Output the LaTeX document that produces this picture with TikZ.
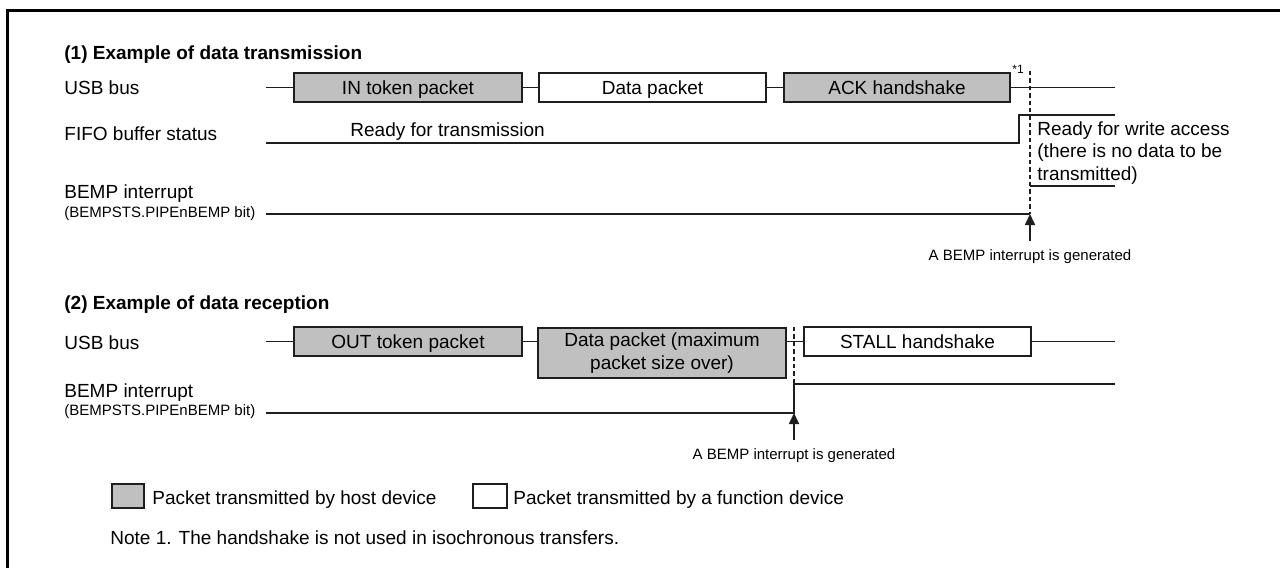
\documentclass[tikz,border=0pt]{standalone}
\usepackage{fontspec}
\setmainfont{Liberation Sans}
\usetikzlibrary{arrows.meta}
\definecolor{HostGray}{RGB}{192,192,192}
\definecolor{LineDark}{RGB}{30,30,30}
\newcommand{\normsz}{\fontsize{9.5}{11.25}\selectfont}
\newcommand{\smallsz}{\fontsize{7.5}{9}\selectfont}
\newcommand{\tinysz}{\fontsize{6}{7}\selectfont}

\begin{document}
\begin{tikzpicture}[x=0.5pt, y=-0.5pt,
    lbl/.style={anchor=base west, inner sep=0pt, font=\normsz},
    sublbl/.style={anchor=base west, inner sep=0pt, font=\smallsz},
    head/.style={lbl, font=\normsz\bfseries},
    pkt/.style={rectangle, draw=LineDark, line width=0.85pt,
                minimum height=14.5pt, inner sep=0pt, font=\normsz,
                text height=0.72em, text depth=0pt},
    host/.style={pkt, fill=HostGray},
    func/.style={pkt, fill=white},
    sig/.style={LineDark, line width=0.85pt},
    evt/.style={LineDark, line width=1pt, dash pattern=on 2.2pt off 1.5pt},
    irq/.style={-{Triangle[length=5.5pt, width=5pt]}, LineDark, line width=0.85pt},
    genlbl/.style={anchor=base, inner sep=0pt, font=\smallsz}
  ]
  \useasboundingbox (0,0) rectangle (1280,568);
  \draw[line width=1.5pt] (7.5,568) |- (1280,10.7);

  % (1) transmission
  \node[head] (title1) at (64,59) {(1) Example of data transmission};
  \node[lbl] (bus1lbl)  at (64,94)  {USB bus};
  \node[lbl] (fifolbl)  at (64,140) {FIFO buffer status};
  \node[lbl] (bemp1lbl) at (64,198) {BEMP interrupt};
  \node[sublbl] (bemp1sub) at (64,217) {(BEMPSTS.PIPEnBEMP bit)};

  \node[host, minimum width=114pt]   (in1)  at (408,87.5)   {IN token packet};
  \node[func, minimum width=113.5pt] (dat1) at (652.5,87.5) {Data packet};
  \node[host, minimum width=113pt]   (ack1) at (897,87.5)   {ACK handshake};
  \node[anchor=base, inner sep=0pt, font=\tinysz] (star1) at (1018,73) {*1};

  \coordinate (b1s) at (266,87.5);
  \coordinate (b1e) at (1115,87.5);
  \draw[sig] (b1s) -- (in1.west);
  \draw[sig] (in1.east) -- (dat1.west);
  \draw[sig] (dat1.east) -- (ack1.west);
  \draw[sig] (ack1.east) -- (b1e);

  \coordinate (f1s)  at (266,143);
  \coordinate (f1up) at (1019,115);
  \coordinate (f1e)  at (1115,115);
  \coordinate (f1lo) at (1030,186);
  \coordinate (f1le) at (1115,186);
  \draw[sig] (f1s) -| (f1up) -- (f1e);
  \draw[sig] (f1lo) -- (f1le);
  \node[lbl] (rdytx) at (350,136) {Ready for transmission};
  \node[anchor=north west, inner sep=0pt, font=\normsz, align=left] (rdywr) at (1037,121)
    {Ready for write access\\(there is no data to be\\transmitted)};

  \coordinate (q1s) at (266,214);
  \coordinate (t1top) at (1030,71);
  \coordinate (t1bot) at (1030,214);
  \coordinate (a1) at (1030,241);
  \draw[sig] (q1s) -- (t1bot);
  \draw[evt] (t1top) -- (t1bot);
  \draw[irq] (a1) -- (t1bot);
  \node[genlbl] (gen1) at (1030,260) {A BEMP interrupt is generated};

  % (2) reception
  \node[head] (title2) at (64,309) {(2) Example of data reception};
  \node[lbl] (bus2lbl)  at (64,349) {USB bus};
  \node[lbl] (bemp2lbl) at (64,397) {BEMP interrupt};
  \node[sublbl] (bemp2sub) at (64,415) {(BEMPSTS.PIPEnBEMP bit)};

  \node[host, minimum width=114pt]   (out2)   at (408,341.5) {OUT token packet};
  \node[host, minimum width=124pt, minimum height=25pt, text height=, text depth=,
        align=center] (dat2) at (662,353)
    {Data packet (maximum\\packet size over)};
  \node[func, minimum width=113.5pt] (stall2) at (917.5,341.5) {STALL handshake};

  \coordinate (b2s) at (266,341.5);
  \coordinate (b2e) at (1115,341.5);
  \draw[sig] (b2s) -- (out2.west);
  \draw[sig] (out2.east) -- (out2.east -| dat2.west);
  \draw[sig] (stall2.west -| dat2.east) -- (stall2.west);
  \draw[sig] (stall2.east) -- (b2e);

  \coordinate (q2s)  at (266,413);
  \coordinate (q2up) at (794,384);
  \coordinate (q2e)  at (1115,384);
  \coordinate (t2top) at (794,327);
  \coordinate (t2bot) at (794,413);
  \coordinate (a2) at (794,440);
  \draw[sig] (q2s) -| (q2up) -- (q2e);
  \draw[evt] (t2top) -- (t2bot);
  \draw[irq] (a2) -- (t2bot);
  \node[genlbl] (gen2) at (794,459) {A BEMP interrupt is generated};

  % legend
  \node[host, minimum width=16pt, minimum height=12pt] (hostkey) at (128,496) {};
  \node[lbl] (hosttxt) at (152,504) {Packet transmitted by host device};
  \node[func, minimum width=17pt, minimum height=12pt] (funckey) at (490,496) {};
  \node[lbl] (functxt) at (513,504) {Packet transmitted by a function device};
  \node[lbl] (note1) at (110,544) {Note 1. The handshake is not used in isochronous transfers.};
\end{tikzpicture}
\end{document}
